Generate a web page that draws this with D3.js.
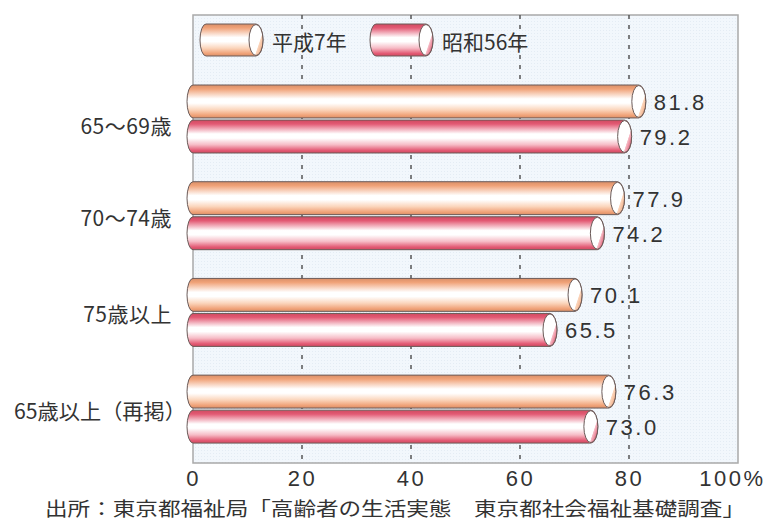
<!DOCTYPE html>
<html>
<head>
<meta charset="utf-8">
<script src="https://cdn.jsdelivr.net/npm/d3@7"></script>
<style>
  body { margin: 0; background: #fff; }
  text { font-family: "Liberation Sans", "Noto Sans CJK JP", sans-serif; fill: #333; }
  .jp { font-family: "Noto Sans CJK JP", sans-serif; }
</style>
</head>
<body>
<div id="chart"></div>
<script>
// data
var categories = ['65～69歳', '70～74歳', '75歳以上', '65歳以上（再掲）'];
var seriesNames = ['平成7年', '昭和56年'];
var valuesH7 = [81.8, 77.9, 70.1, 76.3];
var valuesS56 = [79.2, 74.2, 65.5, 73.0];
var tickValues = [0, 20, 40, 60, 80, 100];
var sourceText = '出所：東京都福祉局「高齢者の生活実態　東京都社会福祉基礎調査」';

var width = 773, height = 525;
var frame = {left: 193, right: 738, top: 15, bottom: 463};

var svg = d3.select('#chart').append('svg')
  .attr('width', width)
  .attr('height', height);

var defs = svg.append('defs');

// colours for the two cylinders
var palette = [
  {edge: '#d98f68', dark: '#f0a278', light: '#fbd6bd', cap: '#eb9a6c'},
  {edge: '#cf4a60', dark: '#e35a74', light: '#f6bcc6', cap: '#d83a58'}
];

palette.forEach(function(p, i) {
  var g = defs.append('linearGradient')
    .attr('id', 'body' + i)
    .attr('x1', 0).attr('y1', 0).attr('x2', 0).attr('y2', 1);
  g.append('stop').attr('offset', '0%').attr('stop-color', p.edge);
  g.append('stop').attr('offset', '12%').attr('stop-color', p.dark);
  g.append('stop').attr('offset', '42%').attr('stop-color', '#ffffff');
  g.append('stop').attr('offset', '55%').attr('stop-color', '#ffffff');
  g.append('stop').attr('offset', '75%').attr('stop-color', p.light);
  g.append('stop').attr('offset', '92%').attr('stop-color', p.dark);
  g.append('stop').attr('offset', '100%').attr('stop-color', p.edge);

  var c = defs.append('linearGradient')
    .attr('id', 'cap' + i)
    .attr('x1', 0.2).attr('y1', 0.3).attr('x2', 1).attr('y2', 0.9);
  c.append('stop').attr('offset', '0%').attr('stop-color', '#ffffff');
  c.append('stop').attr('offset', '58%').attr('stop-color', '#ffffff');
  c.append('stop').attr('offset', '62%').attr('stop-color', p.light);
  c.append('stop').attr('offset', '100%').attr('stop-color', p.cap);
});

// dotted texture for the plot background
var pat = defs.append('pattern')
  .attr('id', 'dots')
  .attr('width', 3).attr('height', 3)
  .attr('patternUnits', 'userSpaceOnUse');
pat.append('rect').attr('width', 3).attr('height', 3).attr('fill', '#f2f7fc');
pat.append('rect').attr('width', 1).attr('height', 1).attr('fill', '#e4ecf4');

var x = d3.scaleLinear()
  .domain([0, 100])
  .range([frame.left, frame.right]);

var y = d3.scaleBand()
  .domain(categories)
  .range([70.5, 457.6])
  .paddingInner(0.297)
  .paddingOuter(0.15);

var ySub = d3.scaleBand()
  .domain(seriesNames)
  .range([0, y.bandwidth()])
  .paddingInner(0.06);

// frame
svg.append('rect')
  .attr('x', frame.left)
  .attr('y', frame.top)
  .attr('width', frame.right - frame.left)
  .attr('height', frame.bottom - frame.top)
  .attr('fill', 'url(#dots)')
  .attr('stroke', '#a9a9a9')
  .attr('stroke-width', 1.5);

// dashed grid
svg.selectAll('.grid')
  .data(tickValues.filter(function(d) { return d > 0 && d < 100; }))
  .enter().append('line')
  .attr('class', 'grid')
  .attr('x1', function(d) { return x(d); })
  .attr('x2', function(d) { return x(d); })
  .attr('y1', frame.top)
  .attr('y2', frame.bottom)
  .attr('stroke', '#555')
  .attr('stroke-width', 1.5)
  .attr('stroke-dasharray', '4,6');

// cylinder: flat body from x0 to x1 with a rounded left end and an elliptic cap
function cylinder(g, x0, x1, top, h, idx) {
  var rx = 7, ry = h / 2, bulge = 6;
  var bottom = top + h;
  var path = 'M' + x0 + ',' + top +
    'L' + x1 + ',' + top +
    'A' + rx + ',' + ry + ' 0 0 1 ' + x1 + ',' + bottom +
    'L' + x0 + ',' + bottom +
    'A' + bulge + ',' + ry + ' 0 0 1 ' + x0 + ',' + top + 'Z';
  g.append('path')
    .attr('d', path)
    .attr('fill', 'url(#body' + idx + ')')
    .attr('stroke', '#6a5a58')
    .attr('stroke-width', 1);
  g.append('ellipse')
    .attr('cx', x1)
    .attr('cy', top + ry)
    .attr('rx', rx)
    .attr('ry', ry - 0.5)
    .attr('fill', 'url(#cap' + idx + ')')
    .attr('stroke', '#6a5a58')
    .attr('stroke-width', 1);
}

var rows = [];
categories.forEach(function(c, i) {
  rows.push({cat: c, series: seriesNames[0], idx: 0, value: valuesH7[i]});
  rows.push({cat: c, series: seriesNames[1], idx: 1, value: valuesS56[i]});
});

var bars = svg.append('g').attr('class', 'bars');
rows.forEach(function(d) {
  var top = y(d.cat) + ySub(d.series);
  cylinder(bars, x(0), x(d.value), top, ySub.bandwidth(), d.idx);
  bars.append('text')
    .attr('x', x(d.value) + 15)
    .attr('y', top + ySub.bandwidth() / 2 + 1)
    .attr('dominant-baseline', 'central')
    .style('font-size', '22px')
    .style('letter-spacing', '2.5px')
    .text(d.value.toFixed(1));
});

// category labels
var labelRight = 172;
svg.selectAll('.cat')
  .data(categories)
  .enter().append('text')
  .attr('class', 'cat jp')
  .attr('x', labelRight)
  .attr('y', function(d, i) { return y(d) + y.bandwidth() / 2 + (i === 0 ? 6 : 1); })
  .attr('text-anchor', 'end')
  .attr('dominant-baseline', 'central')
  .style('font-size', '21px')
  .style('letter-spacing', '0.5px')
  .text(function(d) { return d; })
  .each(function() {
    // squeeze the long label so it stays inside the page
    var w = this.getComputedTextLength();
    if (w > labelRight - 4) {
      d3.select(this)
        .attr('x', 186)
        .attr('textLength', 172)
        .attr('lengthAdjust', 'spacingAndGlyphs')
        .style('letter-spacing', null);
    }
  });

// bottom axis labels
var axis = d3.axisBottom(x)
  .tickValues(tickValues)
  .tickSize(0)
  .tickPadding(0)
  .tickFormat(function(d) { return d === 100 ? '100%' : d; });

var ax = svg.append('g')
  .attr('transform', 'translate(0,' + (frame.bottom + 7) + ')')
  .call(axis);
ax.select('.domain').remove();
ax.selectAll('text')
  .attr('fill', '#333')
  .style('font-family', '"Liberation Sans", sans-serif')
  .style('font-size', '22px')
  .style('letter-spacing', '2.5px')
  .attr('dx', function(d) { return d === 100 ? -6 : 0; })
  .attr('dy', '0.71em');

// legend
var legend = svg.append('g').attr('class', 'legend');
var legendX = [206, 376];
seriesNames.forEach(function(s, i) {
  cylinder(legend, legendX[i], legendX[i] + 50, 24, 32, i);
  legend.append('text')
    .attr('class', 'jp')
    .attr('x', legendX[i] + 66)
    .attr('y', 41)
    .attr('dominant-baseline', 'central')
    .style('font-size', '21px')
    .text(s);
});

// source note
svg.append('text')
  .attr('class', 'jp')
  .attr('x', 45)
  .attr('y', 507)
  .attr('dominant-baseline', 'central')
  .attr('textLength', 700)
  .attr('lengthAdjust', 'spacingAndGlyphs')
  .style('font-size', '19px')
  .text(sourceText);
</script>
</body>
</html>
